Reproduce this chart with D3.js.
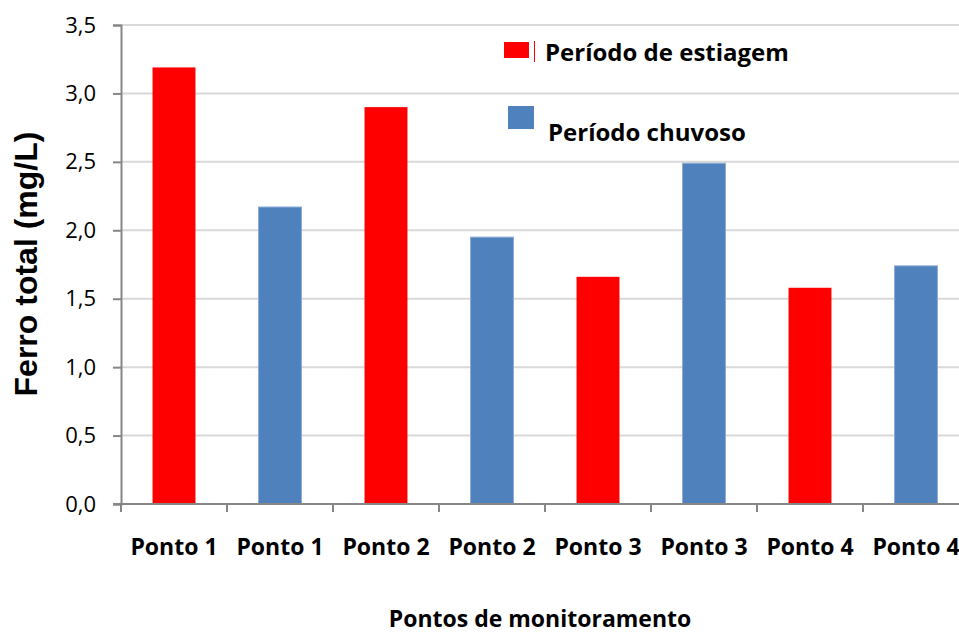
<!DOCTYPE html>
<html>
<head>
<meta charset="utf-8">
<script src="https://cdnjs.cloudflare.com/ajax/libs/d3/7.8.5/d3.min.js"></script>
<style>
  body { margin: 0; background: #fff; }
  svg { display: block; overflow: hidden; }
  text { font-family: "Open Sans", "Noto Sans", sans-serif; fill: #000; }
</style>
</head>
<body>
<div id="chart"></div>
<script>
// dados do gráfico
var categories = ["Ponto 1", "Ponto 1", "Ponto 2", "Ponto 2", "Ponto 3", "Ponto 3", "Ponto 4", "Ponto 4"];
var periods = ["estiagem", "chuvoso", "estiagem", "chuvoso", "estiagem", "chuvoso", "estiagem", "chuvoso"];
var values = [3.19, 2.17, 2.90, 1.95, 1.66, 2.49, 1.58, 1.74];
var yTicks = [0, 0.5, 1.0, 1.5, 2.0, 2.5, 3.0, 3.5];
var legendLabels = ["Período de estiagem", "Período chuvoso"];

var W = 959, H = 633;
var plotLeft = 121, plotRight = 969, plotTop = 25, plotBottom = 504;
var colors = { estiagem: "#FF0000", chuvoso: "#4F81BD" };

var svg = d3.select("#chart").append("svg")
    .attr("width", W)
    .attr("height", H);

var x = d3.scaleBand()
    .domain(d3.range(categories.length))
    .range([plotLeft, plotRight])
    .paddingInner(0.595)
    .paddingOuter(0.2975);

var y = d3.scaleLinear()
    .domain([0, 3.5])
    .range([plotBottom, plotTop]);

// grid
svg.append("g")
    .selectAll("line")
    .data(yTicks.filter(function (d) { return d > 0; }))
    .join("line")
    .attr("x1", plotLeft)
    .attr("x2", plotRight)
    .attr("y1", function (d) { return y(d); })
    .attr("y2", function (d) { return y(d); })
    .attr("stroke", "#D9D9D9")
    .attr("stroke-width", 2);

// barras
svg.append("g")
    .selectAll("rect")
    .data(values)
    .join("rect")
    .attr("x", function (d, i) { return x(i); })
    .attr("y", function (d) { return y(d); })
    .attr("width", x.bandwidth())
    .attr("height", function (d) { return plotBottom - y(d); })
    .attr("fill", function (d, i) { return colors[periods[i]]; })
    .attr("stroke", function (d, i) { return periods[i] == "chuvoso" ? "#8EABD6" : "none"; })
    .attr("stroke-width", 1);

// eixo y
var yAxis = svg.append("g")
    .attr("transform", "translate(" + plotLeft + ",0)")
    .call(d3.axisLeft(y).tickValues(yTicks).tickSize(8).tickPadding(17)
        .tickFormat(function (d) { return d3.format(".1f")(d).replace(".", ","); }));
yAxis.select(".domain").attr("stroke", "#868686").attr("stroke-width", 2);
yAxis.selectAll(".tick line").attr("stroke", "#868686").attr("stroke-width", 2);
yAxis.selectAll(".tick text")
    .style("font-family", "'Open Sans', sans-serif")
    .style("font-size", "22px")
    .attr("fill", "#000");

// eixo x
svg.append("line")
    .attr("x1", plotLeft - 8).attr("x2", plotRight)
    .attr("y1", plotBottom).attr("y2", plotBottom)
    .attr("stroke", "#868686").attr("stroke-width", 2);

svg.append("g")
    .selectAll("line")
    .data(d3.range(categories.length + 1))
    .join("line")
    .attr("x1", function (i) { return plotLeft + i * x.step(); })
    .attr("x2", function (i) { return plotLeft + i * x.step(); })
    .attr("y1", plotBottom)
    .attr("y2", plotBottom + 8)
    .attr("stroke", "#868686")
    .attr("stroke-width", 2);

svg.append("g")
    .selectAll("text")
    .data(categories)
    .join("text")
    .attr("x", function (d, i) { return x(i) + x.bandwidth() / 2; })
    .attr("y", 555)
    .attr("text-anchor", "middle")
    .style("font-size", "23px")
    .style("font-weight", "bold")
    .text(function (d) { return d; });

// títulos
svg.append("text")
    .attr("x", 540)
    .attr("y", 627)
    .attr("text-anchor", "middle")
    .style("font-size", "23px")
    .style("font-weight", "bold")
    .text("Pontos de monitoramento");

svg.append("text")
    .attr("transform", "translate(37,264) rotate(-90)")
    .attr("text-anchor", "middle")
    .style("font-family", "'Liberation Sans', Arial, sans-serif")
    .style("font-size", "32px")
    .style("font-weight", "bold")
    .text("Ferro total (mg/L)");

// legenda
svg.append("rect")
    .attr("x", 504).attr("y", 42).attr("width", 25).attr("height", 16)
    .attr("fill", colors.estiagem);
svg.append("line")
    .attr("x1", 534.5).attr("x2", 534.5).attr("y1", 41).attr("y2", 62)
    .attr("stroke", colors.estiagem).attr("stroke-width", 1);
svg.append("rect")
    .attr("x", 508).attr("y", 106).attr("width", 26).attr("height", 23)
    .attr("fill", colors.chuvoso);

svg.append("text")
    .attr("x", 545).attr("y", 61)
    .style("font-size", "24px").style("font-weight", "bold")
    .text(legendLabels[0]);
svg.append("text")
    .attr("x", 548).attr("y", 141)
    .style("font-size", "24px").style("font-weight", "bold")
    .text(legendLabels[1]);
</script>
</body>
</html>
